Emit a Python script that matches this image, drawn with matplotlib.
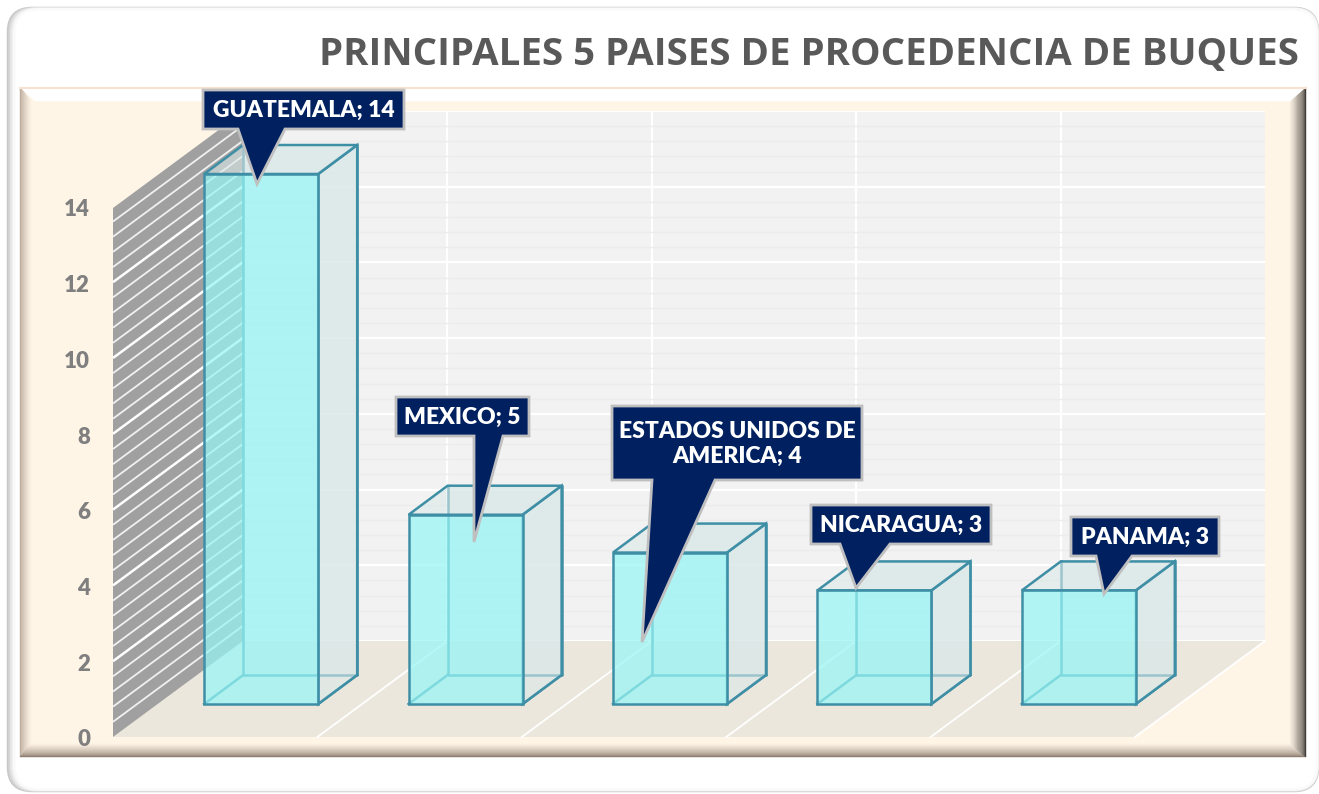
import matplotlib
matplotlib.use("Agg")
import matplotlib.pyplot as plt
from matplotlib.colors import to_rgb
from matplotlib.patches import FancyBboxPatch, Polygon

paises = ["GUATEMALA", "MEXICO", "ESTADOS UNIDOS DE\nAMERICA", "NICARAGUA", "PANAMA"]
buques = [14, 5, 4, 3, 3]
ticks_y = [0, 2, 4, 6, 8, 10, 12, 14]
titulo = "PRINCIPALES 5 PAISES DE PROCEDENCIA DE BUQUES"

W, H = 1319, 794
plt.rcParams["font.family"] = ["Lato", "DejaVu Sans"]
fig = plt.figure(figsize=(W / 100, H / 100), dpi=100, facecolor="white")


def eje_px(x0, y_top, x1, y_bot, zorder):
    # axes placed with the pixel coordinates of the picture
    return fig.add_axes([x0 / W, 1 - y_bot / H, (x1 - x0) / W, (y_bot - y_top) / H], zorder=zorder)


def mezcla(c1, c2, t):
    a, b = to_rgb(c1), to_rgb(c2)
    return tuple(a[i] + (b[i] - a[i]) * t for i in range(3))


# fondo: tarjeta y marco biselado
bg = eje_px(0, 0, W, H, 0)
bg.set_xlim(0, W)
bg.set_ylim(H, 0)
bg.axis("off")

for i, col in enumerate(["#c8c8c8", "#d6d6d6", "#e4e4e4", "#f0f0f0", "#fafafa"]):
    izq = 8 + i * 1.6
    bg.add_patch(FancyBboxPatch((izq, 8 + i * 0.3), 1318 - izq - i * 0.2, 783 - i * 0.7,
                                boxstyle="round,pad=0,rounding_size=24",
                                fc="white" if i == 4 else "none", ec=col, lw=1.8))

bg.add_patch(Polygon([(20, 87), (1306, 87), (1306, 757), (20, 757)], fc="#FFF5E7", ec="none"))


def bisel(p0, p1, p2, p3, c_ext, c_int, n=14):
    # banda con degradado entre el borde exterior (p0,p1) y el interior (p3,p2)
    for k in range(n):
        t0, t1 = k / n, (k + 1) / n
        a = [p0[j] + (p3[j] - p0[j]) * t0 for j in (0, 1)]
        b = [p1[j] + (p2[j] - p1[j]) * t0 for j in (0, 1)]
        c = [p1[j] + (p2[j] - p1[j]) * t1 for j in (0, 1)]
        d = [p0[j] + (p3[j] - p0[j]) * t1 for j in (0, 1)]
        col = mezcla(c_ext, c_int, t0 ** 0.7)
        bg.add_patch(Polygon([a, b, c, d], fc=col, ec=col, lw=0.3))


bisel((20, 87), (20, 757), (31, 745), (31, 101), "#b5a596", "#FFF5E7")
bisel((20, 757), (1306, 757), (1290, 744), (31, 744), "#85766a", "#FFF5E7")
bisel((1306, 757), (1306, 87), (1290, 101), (1290, 744), "#3f3a36", "#FFF5E7")
bisel((20, 87), (1306, 87), (1290, 101), (35, 101), "#ffffff", "#ffffff", n=1)
bg.plot([20, 1306], [88, 88], color="#f7e2d4", lw=1.5)

# piso y pared lateral rayada
bg.add_patch(Polygon([(113, 737), (1135, 737), (1265, 641), (243, 641)], fc="#EBE7DD", ec="none"))
for k in range(1, 5):
    bg.plot([113 + 204.4 * k, 243 + 204.4 * k], [737, 641], color="white", lw=1.3)
bg.plot([1135, 1265], [737, 641], color="white", lw=1.3)
bg.add_patch(Polygon([(113, 737), (113, 208), (243, 112), (243, 641)], fc="#A0A0A0", ec="none"))
for k in range(1, 35):
    y_izq = 737 - 15.16 * k
    mayor = k % 5 == 0
    bg.plot([113, 243], [y_izq, y_izq - 96], color="white", lw=1.8 if mayor else 1.3,
            alpha=1 if mayor else 0.85, solid_capstyle="butt")

# pared del fondo con su cuadricula
pared = eje_px(243, 111, 1265, 641, 1)
pared.set_xlim(-0.5, 4.5)
pared.set_ylim(0, 14)
pared.set_facecolor("#F2F2F2")
pared.set_xticks([0.5, 1.5, 2.5, 3.5])
pared.set_yticks(ticks_y)
pared.set_yticks([v * 0.4 for v in range(36)], minor=True)
pared.grid(True, which="major", color="white", lw=1.6)
pared.grid(True, which="minor", axis="y", color="#ececec", lw=1)
pared.tick_params(which="both", length=0, labelleft=False, labelbottom=False)
for s in pared.spines.values():
    s.set_visible(False)
pared.set_axisbelow(True)

# eje de valores, en el plano frontal
eje_v = eje_px(113, 208, 1135, 738, 2)
eje_v.patch.set_alpha(0)
eje_v.set_xlim(0, 1)
eje_v.set_ylim(0, 14)
eje_v.set_xticks([])
eje_v.set_yticks(ticks_y)
eje_v.set_yticklabels([str(v) for v in ticks_y], fontsize=16, fontweight="heavy", color="#7F7F7F")
eje_v.tick_params(axis="y", length=0, pad=16.5)
for s in eje_v.spines.values():
    s.set_visible(False)

# barras de vidrio: cara frontal con bar(), el resto con fill()
ax = eje_px(159, 174, 1181, 704, 3)
ax.patch.set_alpha(0)
ax.set_xlim(-0.5, 4.5)
ax.set_ylim(0, 14)
ax.axis("off")

ancho = 114 / 204.4
prof_x = 39 / 204.4
prof_y = 29 / 37.86
borde = "#3E8FA6"
vidrio = (0.86, 0.91, 0.91, 0.6)
for i, v in enumerate(buques):
    x0, x1 = i - ancho / 2, i + ancho / 2
    dx, dy = prof_x, prof_y
    # caras traseras y aristas que se ven a traves del vidrio
    ax.fill([x0 + dx, x1 + dx, x1 + dx, x0 + dx], [dy, dy, v + dy, v + dy], fc=vidrio, ec="none", zorder=1, clip_on=False)
    ax.plot([x0 + dx, x0 + dx, x1 + dx, x1 + dx], [v + dy, dy, dy, v + dy], color=borde, lw=1.8, zorder=2, clip_on=False)
    ax.plot([x0, x0 + dx], [0, dy], color=borde, lw=1.8, zorder=2, clip_on=False)
    ax.plot([x1, x1 + dx], [0, dy], color=borde, lw=1.8, zorder=2, clip_on=False)
    # lateral y tapa
    ax.fill([x1, x1 + dx, x1 + dx, x1], [0, dy, v + dy, v], fc=vidrio, ec=borde, lw=1.8, zorder=3, clip_on=False)
    ax.fill([x0, x1, x1 + dx, x0 + dx], [v, v, v + dy, v + dy], fc=vidrio, ec=borde, lw=1.8, zorder=3, clip_on=False)
    ax.bar(i, v, width=ancho, color="#98F6F6", alpha=0.72, edgecolor="none", zorder=4, clip_on=False)
    ax.bar(i, v, width=ancho, fill=False, edgecolor=borde, linewidth=1.8, zorder=5, clip_on=False)

# globos de datos: caja (x0, y0, x1, y1), base de la cola y punta
cajas = [(203, 90, 404, 129), (396, 397, 529, 436), (612, 406, 862, 480), (811, 505, 991, 544), (1071, 517, 1219, 556)]
colas = [(238, 285), (474, 503), (652, 715), (840, 890), (1096, 1132)]
puntas = [(257, 184), (474, 542), (642, 642), (856, 588), (1104, 594)]

top = eje_px(0, 0, W, H, 5)
top.patch.set_alpha(0)
top.set_xlim(0, W)
top.set_ylim(H, 0)
top.axis("off")
for nombre, v, (x0, y0, x1, y1), (c0, c1), punta in zip(paises, buques, cajas, colas, puntas):
    forma = [(x0, y0), (x1, y0), (x1, y1), (c1, y1), punta, (c0, y1), (x0, y1)]
    top.add_patch(Polygon(forma, closed=True, fc="#002060", ec="#BFBFBF", lw=2, joinstyle="miter"))
    top.text((x0 + x1) / 2, (y0 + y1) / 2 + 1, f"{nombre}; {v}", color="white", fontsize=16.5, fontweight="heavy",
             ha="center", va="center", linespacing=1.2)

fig.text(1299 / W, 1 - 55 / H, titulo, fontsize=27.6, fontweight="bold", color="#595959", ha="right", va="center",
         family=["Open Sans", "DejaVu Sans"])

fig.savefig("out.png", dpi=100)
